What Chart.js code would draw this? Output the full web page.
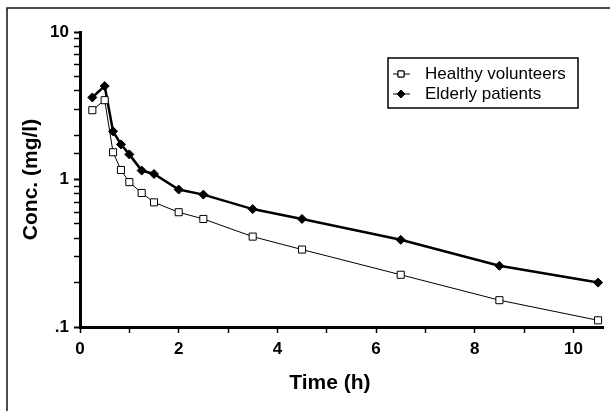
<!DOCTYPE html>
<html>
<head>
<meta charset="utf-8">
<script src="https://cdn.jsdelivr.net/npm/chart.js@4.4.0/dist/chart.umd.min.js"></script>
<style>
  html, body { margin: 0; padding: 0; background: #fff; }
  #wrap { width: 610px; height: 411px; }
</style>
</head>
<body>
<div id="wrap"><canvas id="chart" width="610" height="411"></canvas></div>
<script>
// sampling times (h)
var times = [0.25, 0.5, 0.67, 0.83, 1, 1.25, 1.5, 2, 2.5, 3.5, 4.5, 6.5, 8.5, 10.5];
// concentrations (mg/l)
var healthy = [2.95, 3.45, 1.53, 1.16, 0.96, 0.81, 0.70, 0.60, 0.54, 0.41, 0.335, 0.226, 0.152, 0.111];
var elderly = [3.6, 4.3, 2.12, 1.73, 1.48, 1.15, 1.09, 0.855, 0.79, 0.63, 0.54, 0.39, 0.26, 0.2];
var seriesNames = ['Healthy volunteers', 'Elderly patients'];
// tick labels
var xTickValues = [0, 1, 2, 3, 4, 5, 6, 7, 8, 9, 10];
var yMajorValues = [0.1, 1, 10];
var yMajorLabels = ['.1', '1', '10'];

Chart.defaults.font.family = '"Liberation Sans", Arial, Helvetica, sans-serif';
Chart.defaults.color = '#000';

function toPoints(xs, ys) {
  return xs.map(function (x, i) { return { x: x, y: ys[i] }; });
}

function isMajorY(v) {
  return yMajorValues.some(function (m) { return Math.abs(m - v) < 1e-9; });
}

// frame round the figure (top and left edges only, as in the scan)
var framePlugin = {
  id: 'frame',
  beforeDraw: function (chart) {
    var ctx = chart.ctx;
    ctx.save();
    ctx.fillStyle = '#fff';
    ctx.fillRect(0, 0, chart.width, chart.height);
    ctx.strokeStyle = '#111';
    ctx.lineWidth = 1.5;
    ctx.beginPath();
    ctx.moveTo(7, chart.height);
    ctx.lineTo(7, 8);
    ctx.lineTo(chart.width, 8);
    ctx.stroke();
    ctx.restore();
  }
};

// boxed legend in the upper right of the plot
var legendPlugin = {
  id: 'boxLegend',
  afterDraw: function (chart) {
    var ctx = chart.ctx;
    var area = chart.chartArea;
    var left = area.right - 215, top = area.top + 26, w = 190, h = 50;
    ctx.save();
    ctx.strokeStyle = '#000';
    ctx.lineWidth = 1.5;
    ctx.strokeRect(left, top, w, h);
    ctx.font = '17px "Liberation Sans", Arial, sans-serif';
    ctx.textBaseline = 'middle';
    ctx.fillStyle = '#000';
    chart.data.datasets.forEach(function (ds, i) {
      var y = top + 16 + i * 20;
      ctx.strokeStyle = '#000';
      ctx.lineWidth = 1;
      ctx.beginPath();
      ctx.moveTo(left + 5, y);
      ctx.lineTo(left + 22, y);
      ctx.stroke();
      Chart.helpers.drawPoint(ctx, {
        pointStyle: ds.pointStyle,
        radius: ds.pointRadius * 0.85,
        rotation: 0,
        borderWidth: ds.pointBorderWidth
      }, left + 13, y);
      ctx.fillStyle = ds.pointBackgroundColor;
      ctx.strokeStyle = '#000';
      ctx.lineWidth = ds.pointBorderWidth;
      ctx.fill();
      ctx.stroke();
      ctx.fillStyle = '#000';
      ctx.fillText(ds.label, left + 37, y);
    });
    ctx.restore();
  }
};

var ctx = document.getElementById('chart').getContext('2d');
var chart = new Chart(ctx, {
  type: 'line',
  data: {
    datasets: [
      {
        label: seriesNames[0],
        data: toPoints(times, healthy),
        borderColor: '#000',
        borderWidth: 1,
        pointStyle: 'rect',
        pointRadius: 5,
        pointBackgroundColor: '#fff',
        pointBorderColor: '#000',
        pointBorderWidth: 1,
        tension: 0
      },
      {
        label: seriesNames[1],
        data: toPoints(times, elderly),
        borderColor: '#000',
        borderWidth: 2.5,
        pointStyle: 'rectRot',
        pointRadius: 4.5,
        pointBackgroundColor: '#000',
        pointBorderColor: '#000',
        pointBorderWidth: 1,
        tension: 0
      }
    ]
  },
  options: {
    responsive: false,
    animation: false,
    devicePixelRatio: 1,
    layout: { padding: { left: 0, right: 7, top: 32, bottom: 0 } },
    plugins: {
      legend: { display: false },
      tooltip: { enabled: false }
    },
    scales: {
      x: {
        type: 'linear',
        min: 0,
        max: 10.6,
        afterBuildTicks: function (scale) {
          scale.ticks = xTickValues.map(function (v) { return { value: v }; });
        },
        afterFit: function (scale) { scale.height = 84; },
        ticks: {
          autoSkip: false,
          maxRotation: 0,
          padding: 6,
          font: { size: 17, weight: 'bold' },
          callback: function (v) { return v % 2 === 0 ? String(v) : ''; }
        },
        grid: {
          drawOnChartArea: false,
          drawTicks: true,
          tickLength: 6,
          tickColor: '#000',
          tickWidth: 1.5
        },
        border: { display: true, color: '#000', width: 3 },
        title: {
          display: true,
          // trailing no-break spaces nudge the centred title left, as in the original
          text: 'Time (h)\u00a0\u00a0\u00a0\u00a0',
          font: { size: 21, weight: 'bold', lineHeight: 1.2 },
          padding: { top: 0, bottom: 15 }
        }
      },
      y: {
        type: 'logarithmic',
        min: 0.1,
        max: 10,
        afterFit: function (scale) { scale.width = 80; },
        ticks: {
          autoSkip: false,
          padding: 5,
          font: { size: 17, weight: 'bold' },
          callback: function (v) {
            var i = yMajorValues.findIndex(function (m) { return Math.abs(m - v) < 1e-9; });
            return i >= 0 ? yMajorLabels[i] : '';
          }
        },
        grid: {
          drawOnChartArea: false,
          drawTicks: true,
          tickLength: 6,
          tickColor: '#000',
          tickWidth: function (c) { return isMajorY(c.tick.value) ? 2 : 1.5; }
        },
        border: { display: true, color: '#000', width: 3 },
        title: {
          display: true,
          text: 'Conc. (mg/l)',
          font: { size: 21, weight: 'bold', lineHeight: 1.2 },
          padding: { top: 19, bottom: 0 }
        }
      }
    }
  },
  plugins: [framePlugin, legendPlugin]
});
</script>
</body>
</html>
